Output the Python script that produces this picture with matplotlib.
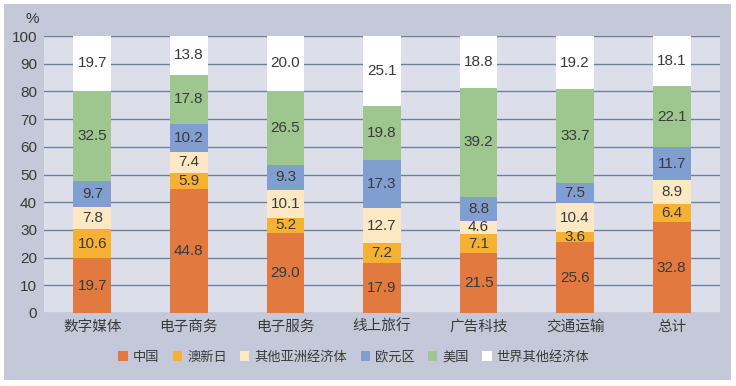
import matplotlib
matplotlib.use("Agg")
import matplotlib.pyplot as plt
from matplotlib.patches import Rectangle
import numpy as np

plt.rcParams['font.family'] = ['Noto Sans CJK SC', 'DejaVu Sans']

# data
categories = ["数字媒体", "电子商务", "电子服务", "线上旅行", "广告科技", "交通运输", "总计"]
series_names = ["中国", "澳新日", "其他亚洲经济体", "欧元区", "美国", "世界其他经济体"]
china = [19.7, 44.8, 29.0, 17.9, 21.5, 25.6, 32.8]
anz_japan = [10.6, 5.9, 5.2, 7.2, 7.1, 3.6, 6.4]
other_asia = [7.8, 7.4, 10.1, 12.7, 4.6, 10.4, 8.9]
euro = [9.7, 10.2, 9.3, 17.3, 8.8, 7.5, 11.7]
usa = [32.5, 17.8, 26.5, 19.8, 39.2, 33.7, 22.1]
rest = [19.7, 13.8, 20.0, 25.1, 18.8, 19.2, 18.1]
series = [china, anz_japan, other_asia, euro, usa, rest]
colors = ["#e27a40", "#f4b132", "#fce8c3", "#809fd0", "#9dc78e", "#ffffff"]

txt = "#3a3a3a"
numfont = "Liberation Sans"

fig = plt.figure(figsize=(7.36, 3.86), dpi=100)
fig.patch.set_facecolor("white")
# outer grey panel
panel = Rectangle((4/736, 6/386), 727/736, 376/386, transform=fig.transFigure,
                  facecolor="#c5c8d8", edgecolor="none", zorder=-10)
fig.add_artist(panel)

ax = fig.add_axes([44/736, 73/386, 676/736, 277/386])
ax.set_facecolor("#dcdfea")

x = np.arange(len(categories))
bottom = np.zeros(len(categories))
for name, vals, col in zip(series_names, series, colors):
    vals = np.array(vals)
    ax.bar(x, vals, 0.39, bottom=bottom, color=col, label=name, zorder=3)
    for xi, b, v in zip(x, bottom, vals):
        ax.text(xi, b + v/2, f"{v:.1f}", ha="center", va="center",
                fontsize=11, color=txt, family=numfont, zorder=4)
    bottom += vals

ax.set_xlim(-0.5, len(categories) - 0.5)
ax.set_ylim(0, 100)
ax.set_yticks(range(0, 101, 10))
ax.yaxis.grid(True, color="#6e7f9c", lw=1)
ax.set_axisbelow(True)
for s in ax.spines.values():
    s.set_visible(False)
ax.tick_params(length=0, colors=txt)
ax.tick_params(axis="y", pad=5)
for lab in ax.get_yticklabels():
    lab.set_family(numfont)
    lab.set_fontsize(11)
ax.set_xticks(x)
ax.set_xticklabels(categories, fontsize=10.5, fontweight="light")
ax.tick_params(axis="x", pad=5)
fig.text(32/736, 1 - 19/386, "%", ha="center", va="center", fontsize=11,
         color=txt, family=numfont)

leg = fig.legend(loc="center", bbox_to_anchor=(354/736, 1 - 357/386), ncol=6, frameon=False,
                 fontsize=9.5, handlelength=0.7, handleheight=0.7, handletextpad=0.4,
                 columnspacing=1.0, labelcolor=txt)

fig.savefig("out.png", dpi=100)
